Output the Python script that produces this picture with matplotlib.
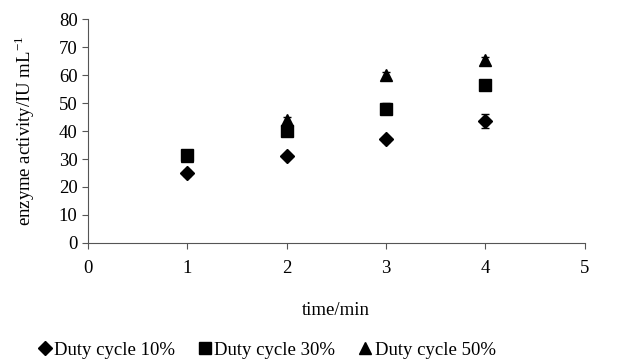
import numpy as np
import matplotlib.pyplot as plt

plt.rcParams['font.family'] = ['Liberation Serif', 'DejaVu Serif']

time = [1, 2, 3, 4]
duty10 = [25.0, 31.0, 37.0, 43.5]
duty10_err = [1.0, 0.8, 1.0, 2.5]
duty30 = [31.5, 40.0, 48.0, 56.5]
duty30_err = [1.5, 1.5, 2.0, 1.0]
duty50 = [31.0, 44.0, 60.0, 65.5]
duty50_err = [1.0, 1.0, 1.0, 1.0]

fig = plt.figure(figsize=(6.22, 3.61), dpi=100)
ax = fig.add_axes([0.1415, 0.327, 0.7985, 0.62])

series = [
    (duty10, duty10_err, 'D', 7, 'Duty cycle 10%', 3),
    (duty30, duty30_err, 's', 8, 'Duty cycle 30%', 3),
    (duty50, duty50_err, '^', 9, 'Duty cycle 50%', 2),
]
for vals, err, mk, ms, lab, z in series:
    ax.errorbar(time, vals, yerr=err, fmt=mk, color='black', markersize=ms,
                capsize=3, elinewidth=1, capthick=1, label=lab, zorder=z)

ax.set_xlim(0, 5)
ax.set_ylim(0, 80)
ax.set_xticks(range(0, 6))
ax.set_yticks(range(0, 90, 10))
ax.spines['top'].set_visible(False)
ax.spines['right'].set_visible(False)
ax.spines['left'].set_color('#555555')
ax.spines['bottom'].set_color('#555555')
ax.tick_params(labelsize=13.5, direction='out', length=4, color='#555555')
ax.tick_params(axis='x', pad=8)
ax.set_xlabel('time/min', fontsize=13.5, labelpad=18)
ax.set_ylabel('enzyme activity/IU mL$^{\\mathregular{-1}}$', fontsize=13.5, labelpad=16)

handles, labels = ax.get_legend_handles_labels()
handles = [h[0] for h in handles]
fig.legend(handles, labels, loc='lower center', bbox_to_anchor=(0.43, -0.04),
           ncol=3, frameon=False, fontsize=13.5, handlelength=0.6,
           handletextpad=0.2, columnspacing=1.3)

fig.savefig('out.png', dpi=100)
